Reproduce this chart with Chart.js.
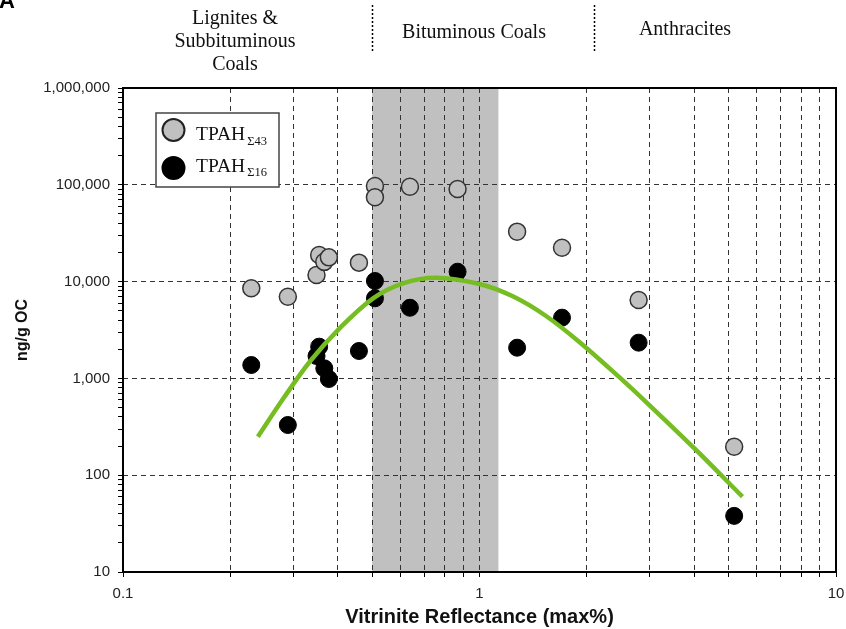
<!DOCTYPE html>
<html>
<head>
<meta charset="utf-8">
<script src="https://cdn.jsdelivr.net/npm/chart.js@4"></script>
<style>
  html, body { margin: 0; padding: 0; background: #fff; }
  #wrap { width: 846px; height: 629px; }
</style>
</head>
<body>
<div id="wrap"><canvas id="c" width="846" height="629"></canvas></div>
<script>
// Vitrinite reflectance (max%) of each coal sample
const reflectance = [0.229, 0.290, 0.349, 0.355, 0.367, 0.378, 0.459, 0.509, 0.509, 0.638, 0.868, 1.275, 1.704, 2.795, 5.18];
// Total PAH, 43 compounds (ng/g OC)
const tpah43 = [8530, 6980, 11700, 18800, 16000, 17800, 15700, 97200, 74300, 95500, 90500, 32800, 22400, 6450, 197];
// Total PAH, 16 priority compounds (ng/g OC)
const tpah16 = [1375, 330, 1703, 2128, 1271, 986, 1919, 10150, 6720, 5370, 12650, 2076, 4240, 2340, 38];

// Trend curve through the TPAH(16) data
const trendX = [0.239, 0.281, 0.334, 0.405, 0.503, 0.610, 0.756, 1.000, 1.240, 1.537, 1.906, 2.467, 2.994, 4.001, 5.464];
const trendY = [250, 612, 1487, 3293, 6722, 9603, 10972, 9446, 7047, 4412, 2377, 1029, 530, 190, 60];

// Axis ticks
const xTickValues = [0.1, 0.2, 0.3, 0.4, 0.5, 0.6, 0.7, 0.8, 0.9, 1, 2, 3, 4, 5, 6, 7, 8, 9, 10];
const xTickLabels = { 0.1: '0.1', 1: '1', 10: '10' };
const yDecades = [10, 100, 1000, 10000, 100000, 1000000];

// Coal rank zones
const rankBoundaries = [0.5, 2.1];
const bituminousWindow = [0.5, 1.13];
const rankNames = [['Lignites &', 'Subbituminous', 'Coals'], ['Bituminous Coals'], ['Anthracites']];

const yTickValues = [];
yDecades.forEach((d, i) => {
  yTickValues.push(d);
  if (i < yDecades.length - 1) for (let m = 2; m <= 9; m++) yTickValues.push(d * m);
});

const SERIF = '"Liberation Serif", "Times New Roman", serif';
const SANS = '"Liberation Sans", Arial, sans-serif';

const backdrop = {
  id: 'backdrop',
  beforeDraw(chart) {
    const { ctx, chartArea: a, scales: { x } } = chart;
    ctx.save();
    ctx.fillStyle = '#c0c0c0';
    const x0 = x.getPixelForValue(bituminousWindow[0]);
    const x1 = x.getPixelForValue(bituminousWindow[1]);
    ctx.fillRect(x0, a.top, x1 - x0, a.bottom - a.top);
    ctx.restore();
  }
};

const decorations = {
  id: 'decorations',
  afterDraw(chart) {
    const { ctx, chartArea: a, scales: { x } } = chart;
    ctx.save();

    // plot frame
    ctx.strokeStyle = '#000';
    ctx.lineWidth = 2;
    ctx.strokeRect(a.left, a.top, a.right - a.left, a.bottom - a.top);

    // panel letter
    ctx.fillStyle = '#000';
    ctx.font = 'bold 22px ' + SANS;
    ctx.textAlign = 'left';
    ctx.textBaseline = 'alphabetic';
    ctx.fillText('A', -1, 8);

    // rank headings
    ctx.font = '20px ' + SERIF;
    ctx.textAlign = 'center';
    ctx.textBaseline = 'middle';
    ctx.fillStyle = '#111';
    rankNames[0].forEach((t, i) => ctx.fillText(t, 235, 19 + i * 23));
    ctx.fillText(rankNames[1][0], 474, 33);
    ctx.fillText(rankNames[2][0], 685, 30);

    // dotted separators between ranks
    ctx.strokeStyle = '#000';
    ctx.lineWidth = 1.5;
    ctx.setLineDash([2, 2]);
    rankBoundaries.forEach(v => {
      const px = Math.round(x.getPixelForValue(v)) + 0.5;
      ctx.beginPath();
      ctx.moveTo(px, 5);
      ctx.lineTo(px, 52);
      ctx.stroke();
    });
    ctx.setLineDash([]);

    // legend
    ctx.fillStyle = '#fff';
    ctx.fillRect(156, 113, 123, 74);
    ctx.strokeStyle = '#444';
    ctx.lineWidth = 1.5;
    ctx.strokeRect(156, 113, 123, 74);

    const rows = [
      { y: 130, fill: '#c0c0c0', stroke: '#222', sub: '\u03A343', base: 139.5, subBase: 144.5 },
      { y: 168, fill: '#000', stroke: '#000', sub: '\u03A316', base: 172, subBase: 175.5 }
    ];
    rows.forEach(r => {
      ctx.beginPath();
      ctx.arc(173.5, r.y, 11, 0, Math.PI * 2);
      ctx.fillStyle = r.fill;
      ctx.fill();
      ctx.lineWidth = 2;
      ctx.strokeStyle = r.stroke;
      ctx.stroke();
      ctx.fillStyle = '#111';
      ctx.textAlign = 'left';
      ctx.textBaseline = 'alphabetic';
      ctx.font = '19.5px ' + SERIF;
      ctx.fillText('TPAH', 196, r.base);
      const w = ctx.measureText('TPAH').width;
      ctx.font = '12.5px ' + SERIF;
      ctx.fillText(r.sub, 196 + w + 2, r.subBase);
    });

    ctx.restore();
  }
};

const pts = ys => reflectance.map((x, i) => ({ x, y: ys[i] }));

new Chart(document.getElementById('c'), {
  type: 'scatter',
  data: {
    datasets: [
      {
        label: 'Trend',
        type: 'line',
        data: trendX.map((x, i) => ({ x, y: trendY[i] })),
        borderColor: '#76bd22',
        borderWidth: 4.5,
        pointRadius: 0,
        tension: 0.35,
        fill: false,
        order: 0
      },
      {
        label: 'TPAH\u03A316',
        data: pts(tpah16),
        pointRadius: 8.5,
        backgroundColor: '#000',
        borderColor: '#000',
        borderWidth: 1,
        order: 1
      },
      {
        label: 'TPAH\u03A343',
        data: pts(tpah43),
        pointRadius: 8.5,
        backgroundColor: '#c0c0c0',
        borderColor: '#333',
        borderWidth: 1.5,
        order: 2
      }
    ]
  },
  options: {
    responsive: false,
    animation: false,
    events: [],
    layout: { padding: { top: 88, right: 10, left: 0, bottom: 0 } },
    plugins: { legend: { display: false }, tooltip: { enabled: false } },
    scales: {
      x: {
        type: 'logarithmic',
        position: 'bottom',
        min: 0.1,
        max: 10,
        afterBuildTicks: s => { s.ticks = xTickValues.map(v => ({ value: v })); },
        afterFit: s => { s.height = 57; s.paddingLeft = 0; s.paddingRight = 0; },
        ticks: {
          autoSkip: false,
          maxRotation: 0,
          padding: 8,
          color: '#222',
          font: { family: SANS, size: 15 },
          callback: v => xTickLabels[v] || ''
        },
        grid: {
          color: c => (c.tick && c.tick.value > 0.1 && c.tick.value < 10) ? '#333' : 'rgba(0,0,0,0)',
          tickColor: '#000',
          tickLength: 5,
          lineWidth: 1
        },
        border: { display: false, dash: [5, 4] },
        title: {
          display: true,
          text: 'Vitrinite Reflectance (max%)',
          color: '#111',
          font: { family: SANS, size: 20, weight: 'bold' },
          padding: { top: 0, bottom: 0 }
        }
      },
      y: {
        type: 'logarithmic',
        min: 10,
        max: 1000000,
        afterBuildTicks: s => { s.ticks = yTickValues.map(v => ({ value: v })); },
        afterFit: s => { s.width = 123; },
        ticks: {
          autoSkip: false,
          padding: 8,
          color: '#222',
          font: { family: SANS, size: 15 },
          callback: v => yDecades.includes(v) ? v.toLocaleString('en-US') : ''
        },
        grid: {
          color: c => (c.tick && yDecades.includes(c.tick.value) && c.tick.value > 10 && c.tick.value < 1000000) ? '#333' : 'rgba(0,0,0,0)',
          tickColor: '#000',
          tickLength: 5,
          lineWidth: 1
        },
        border: { display: false, dash: [5, 4] },
        title: {
          display: true,
          text: 'ng/g OC',
          color: '#111',
          font: { family: SANS, size: 16, weight: 'bold' },
          padding: { top: 13, bottom: 0 }
        }
      }
    }
  },
  plugins: [backdrop, decorations]
});
</script>
</body>
</html>
